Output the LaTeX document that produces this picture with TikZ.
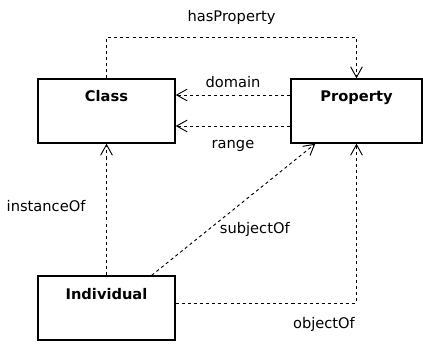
\documentclass[tikz,border=0pt]{standalone}
\usepackage{fontspec}
\setmainfont{DejaVu Sans}
\usepackage{tikz}
\usetikzlibrary{arrows.meta,positioning,calc}

\begin{document}
\begin{tikzpicture}[x=0.03cm,y=-0.03cm,
           font=\fontsize{12.5}{15}\selectfont,
           box/.style={draw,line width=1.2pt,rectangle,minimum width=4.11cm,
             minimum height=1.92cm,inner ysep=0.3cm,text height=0.39cm,
             text depth=0.93cm,font=\fontsize{12.5}{15}\selectfont\bfseries},
           rel/.style={line width=0.8pt,dash pattern=on 2.6pt off 2.6pt,
             -{Straight Barb[length=9pt,width=10pt]}}]
          \useasboundingbox (0,0) rectangle (423,345);
          \node[box] (cls) at (106.5,111) {Class};
          \node[box,minimum width=3.93cm] (prop) at (356.5,111) {Property};
          \node[box] (ind) at (106.5,308) {Individual};
          \draw[rel] (cls.north) -- ++(0,-41) -| node[pos=0.25,above=0.25cm] {hasProperty} (prop.north);
          \draw[rel] ([yshift=0.48cm]prop.west) -- node[above=0.1cm] {domain} ([yshift=0.48cm]cls.east);
          \draw[rel] ([yshift=-0.45cm]prop.west) -- node[below=0.3cm] {range} ([yshift=-0.45cm]cls.east);
          \draw[rel] (ind.north) -- node[left=0.5cm,yshift=0.1cm] {instanceOf} (cls.south);
          \draw[rel] ([xshift=-0.72cm]ind.north east) -- node[pos=0.37,anchor=west,xshift=0.1cm,yshift=-0.08cm] {subjectOf} ([xshift=0.75cm]prop.south west);
          \draw[rel] ([yshift=0.15cm]ind.east) -| node[pos=0.41,below=0.3cm] {objectOf} (prop.south);
%          \draw[rel] (ind) -- (prop);
\end{tikzpicture}
\end{document}
